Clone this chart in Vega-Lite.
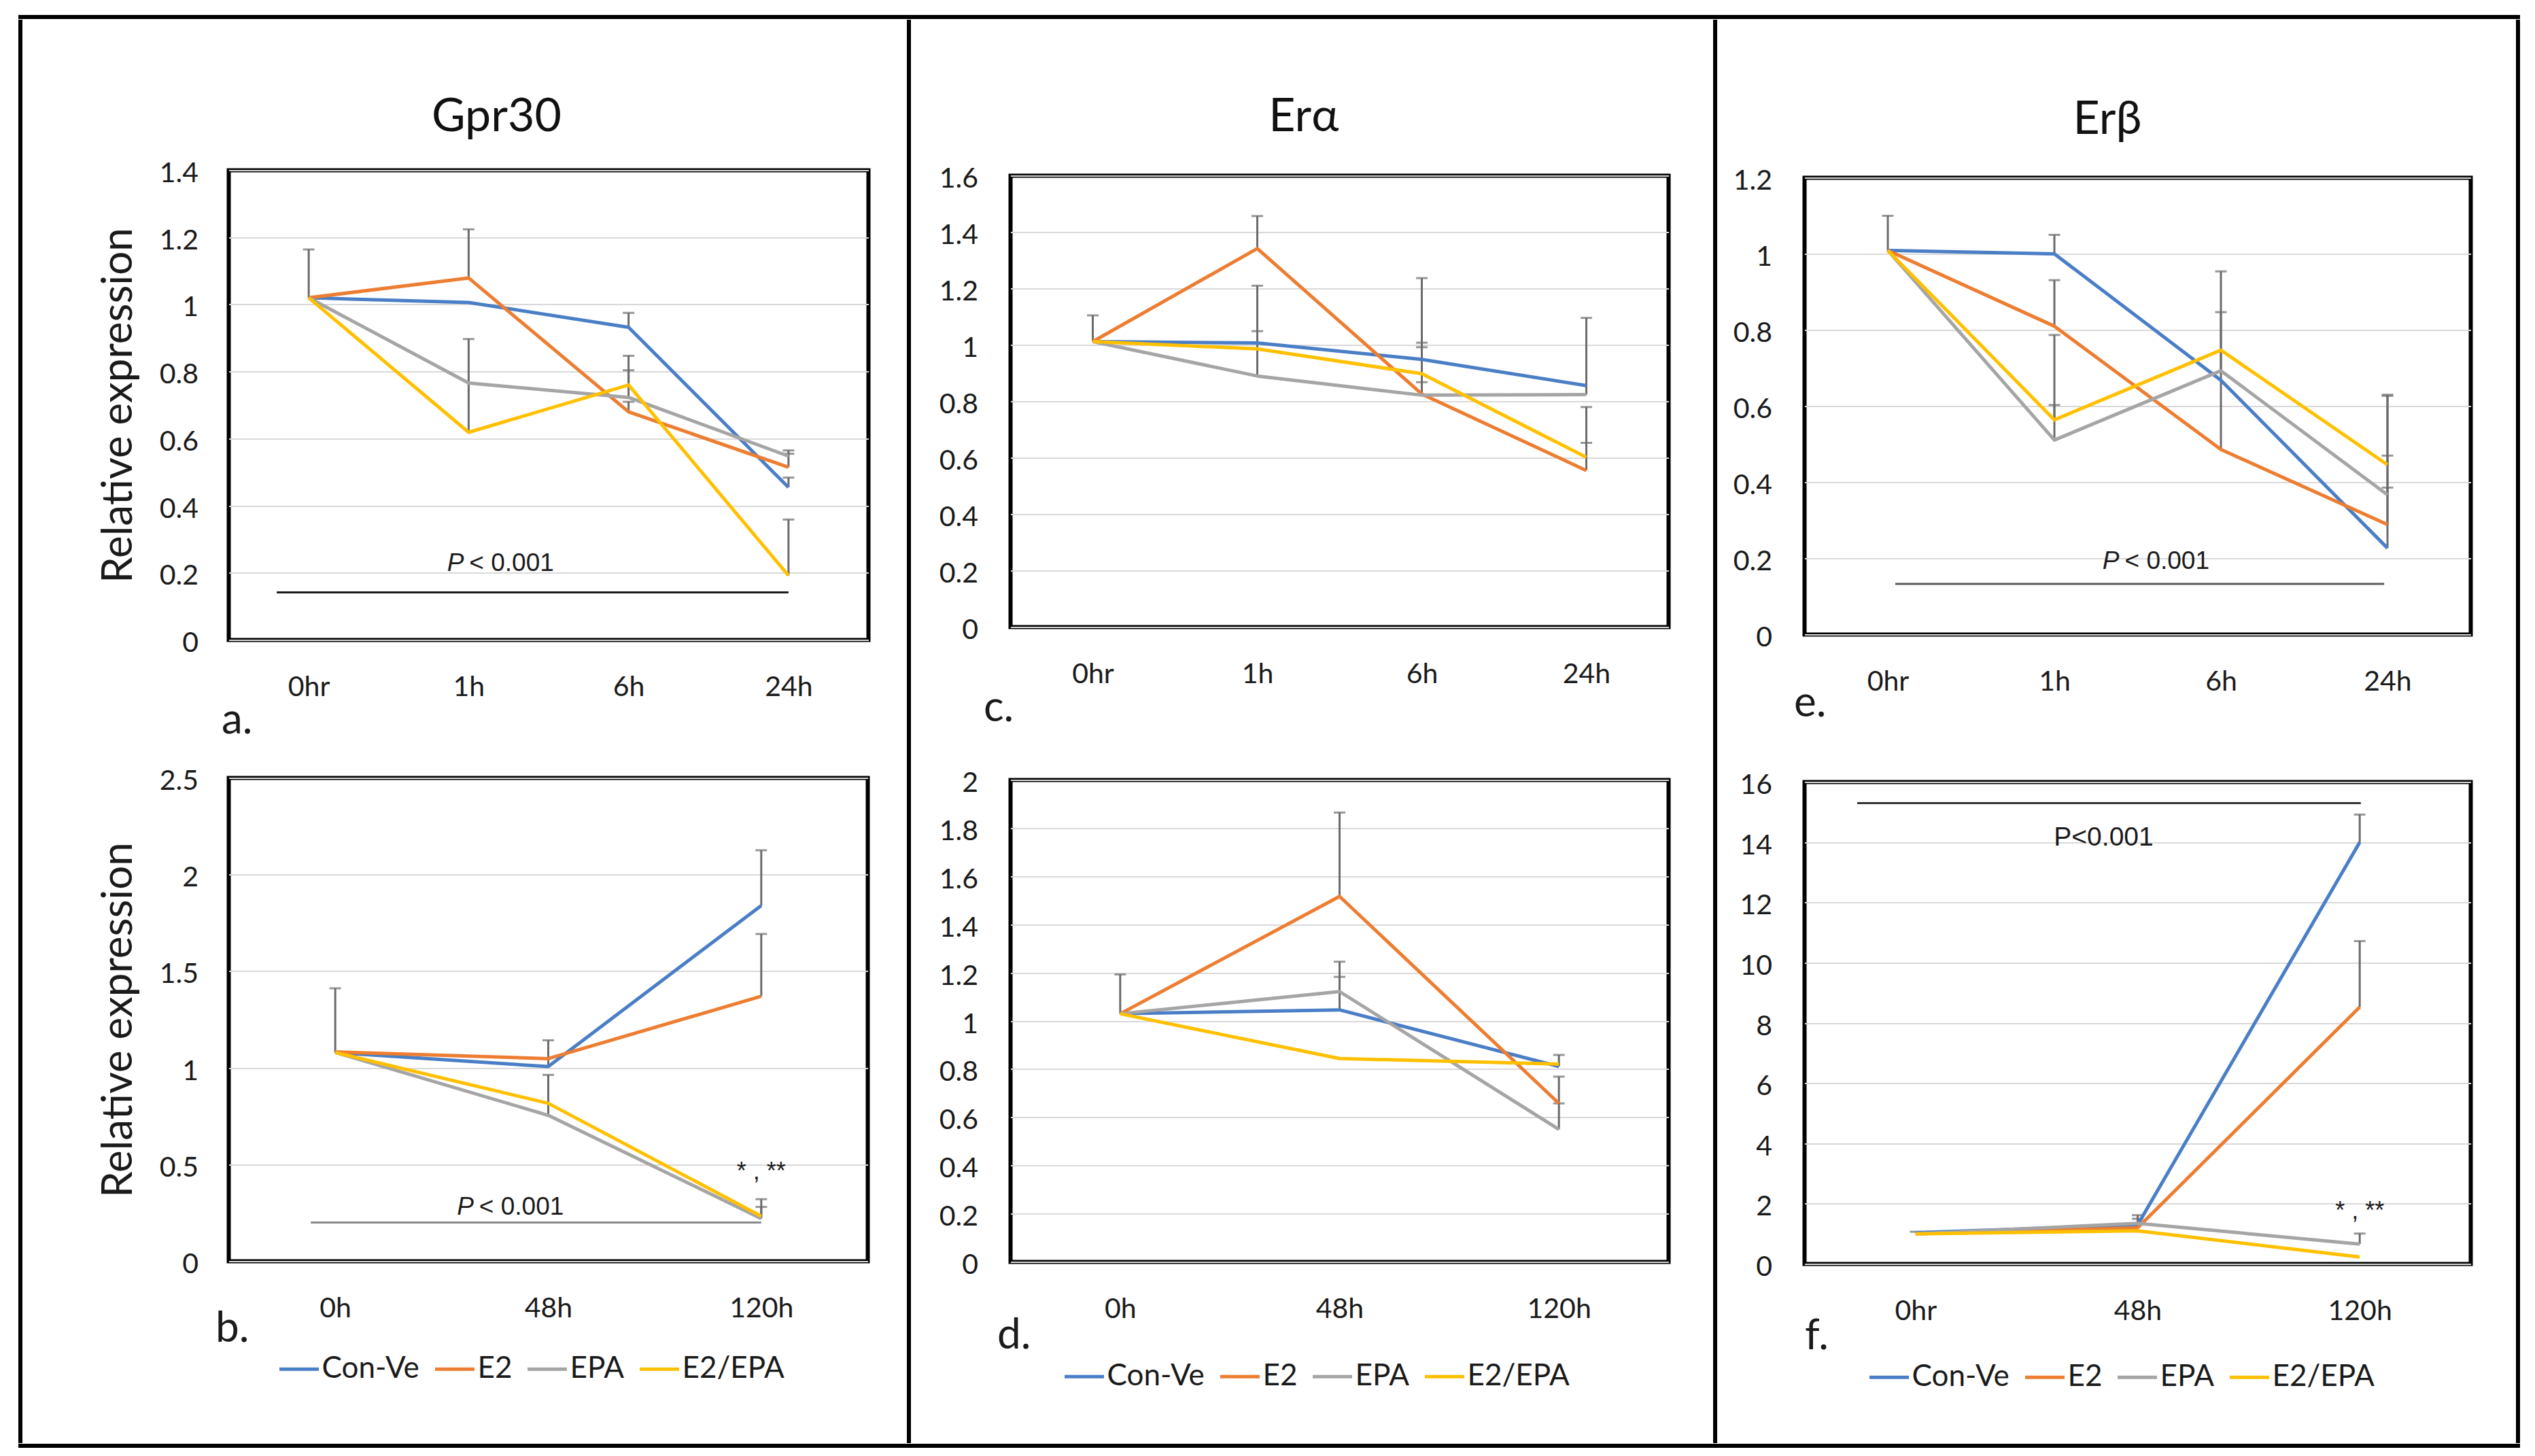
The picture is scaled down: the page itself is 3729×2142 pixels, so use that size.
{
  "$schema": "https://vega.github.io/schema/vega-lite/v6.json",
  "background": "white",
  "padding": {"left": 26.5, "top": 21.5, "right": 0, "bottom": 0},
  "spacing": 0,
  "resolve": {"scale": {"color": "independent"}, "legend": {"color": "independent"}},
  "config": {
    "view": {"stroke": null},
    "font": "Lato",
    "title": {"font": "Lato", "fontWeight": "normal", "color": "#111111", "fontSize": 68, "frame": "bounds", "anchor": "middle"},
    "axis": {"labelFont": "Lato", "labelFontSize": 41, "labelColor": "#1a1a1a", "ticks": false, "domain": false, "labelFlush": false, "titleFont": "Lato", "titleFontWeight": "normal", "titleColor": "#1a1a1a", "gridColor": "#d9d9d9", "gridWidth": 2},
    "axisX": {"grid": false, "labelPadding": 50, "titleFontSize": 62, "titleAlign": "left", "titleBaseline": "middle"},
    "axisY": {"grid": true, "titleFontSize": 62, "labelOffset": 5},
    "legend": {"labelFont": "Lato", "labelFontSize": 44, "labelColor": "#1a1a1a"}
  },
  "vconcat": [
    {"width": 3675, "height": 1, "data": {"values": []}, "mark": "rule", "encoding": {}, "view": {"stroke": "#000000", "strokeWidth": 5}},
    {
      "spacing": 0,
      "bounds": "flush",
      "resolve": {"scale": {"color": "independent"}, "legend": {"color": "independent"}},
      "hconcat": [
        {"width": 1, "height": 2089, "data": {"values": []}, "mark": "rule", "encoding": {}, "view": {"stroke": "#000000", "strokeWidth": 5}},
        {"width": 306, "height": 1, "data": {"values": []}, "mark": "rule", "encoding": {}},
        {
          "spacing": 203,
          "bounds": "flush",
          "resolve": {"scale": {"color": "independent"}, "legend": {"color": "independent"}},
          "vconcat": [
            {"width": 1, "height": 16, "data": {"values": []}, "mark": "rule", "encoding": {}},
            {
              "width": 941, "height": 691,
              "title": {"text": "Gpr30", "offset": 28, "dx": 20},
              "view": {"stroke": "#000000", "strokeWidth": 6},
              "data": {"values": [
                {"g": "Con-Ve", "t": 0, "v": 1.02, "hi": 1.164},
                {"g": "Con-Ve", "t": 1, "v": 1.006},
                {"g": "Con-Ve", "t": 2, "v": 0.932, "hi": 0.975},
                {"g": "Con-Ve", "t": 3, "v": 0.455, "hi": 0.484},
                {"g": "E2", "t": 0, "v": 1.02},
                {"g": "E2", "t": 1, "v": 1.079, "hi": 1.224},
                {"g": "E2", "t": 2, "v": 0.68, "hi": 0.71},
                {"g": "E2", "t": 3, "v": 0.515, "hi": 0.555},
                {"g": "EPA", "t": 0, "v": 1.02},
                {"g": "EPA", "t": 1, "v": 0.766},
                {"g": "EPA", "t": 2, "v": 0.723, "hi": 0.804},
                {"g": "EPA", "t": 3, "v": 0.548, "hi": 0.565},
                {"g": "E2/EPA", "t": 0, "v": 1.02},
                {"g": "E2/EPA", "t": 1, "v": 0.619, "hi": 0.897},
                {"g": "E2/EPA", "t": 2, "v": 0.76, "hi": 0.847},
                {"g": "E2/EPA", "t": 3, "v": 0.192, "hi": 0.359}
              ]},
              "layer": [
                {"transform": [{"filter": "isValid(datum.hi)"}], "mark": {"type": "rule", "color": "#6b6b6b", "strokeWidth": 3},
                 "encoding": {"x": {"field": "t", "type": "quantitative", "title": "a."}, "y": {"field": "v", "type": "quantitative", "title": "Relative expression"}, "y2": {"field": "hi"}}},
                {"transform": [{"filter": "isValid(datum.hi)"}], "mark": {"type": "tick", "orient": "horizontal", "color": "#6b6b6b", "size": 17, "thickness": 3},
                 "encoding": {"x": {"field": "t", "type": "quantitative", "title": "a."}, "y": {"field": "hi", "type": "quantitative", "title": "Relative expression"}}},
                {"mark": {"type": "line", "strokeWidth": 5, "strokeJoin": "round"},
                 "encoding": {
                   "x": {"field": "t", "type": "quantitative", "title": "a.", "scale": {"domain": [-0.5, 3.5], "nice": false, "zero": false},
                         "axis": {"values": [0, 1, 2, 3], "labelExpr": "['0hr','1h','6h','24h'][datum.value]", "titleX": -11, "titleY": 118}},
                   "y": {"field": "v", "type": "quantitative", "title": "Relative expression", "scale": {"domain": [0, 1.4], "nice": false},
                         "axis": {"values": [0, 0.2, 0.4, 0.6, 0.8, 1, 1.2, 1.4], "format": "~f", "labelPadding": 45, "titlePadding": 28}},
                   "color": {"field": "g", "type": "nominal", "scale": {"domain": ["Con-Ve", "E2", "EPA", "E2/EPA"], "range": ["#4a7ec6", "#ed7d31", "#a5a5a5", "#ffc000"]}, "legend": null}
                 }},
                {"data": {"values": [{"t": -0.2, "t2": 3, "v": 0.142}]}, "mark": {"type": "rule", "color": "#1a1a1a", "strokeWidth": 3},
                 "encoding": {"x": {"field": "t", "type": "quantitative", "title": "a."}, "x2": {"field": "t2"}, "y": {"field": "v", "type": "quantitative", "title": "Relative expression"}}},
                {"data": {"values": [{"t": 0.97, "v": 0.228, "label": "P"}]}, "mark": {"type": "text", "font": "Liberation Sans", "fontSize": 37, "fontStyle": "italic", "align": "right", "baseline": "middle", "color": "#1a1a1a"},
                 "encoding": {"x": {"field": "t", "type": "quantitative", "title": "a."}, "y": {"field": "v", "type": "quantitative", "title": "Relative expression"}, "text": {"field": "label"}}},
                {"data": {"values": [{"t": 0.97, "v": 0.228, "label": "< 0.001"}]}, "mark": {"type": "text", "font": "Liberation Sans", "fontSize": 37, "align": "left", "baseline": "middle", "dx": 8, "color": "#1a1a1a"},
                 "encoding": {"x": {"field": "t", "type": "quantitative", "title": "a."}, "y": {"field": "v", "type": "quantitative", "title": "Relative expression"}, "text": {"field": "label"}}}
              ]
            },
            {
              "width": 940, "height": 711,
              "view": {"stroke": "#000000", "strokeWidth": 6},
              "data": {"values": [
                {"g": "Con-Ve", "t": 0, "v": 1.079, "hi": 1.412},
                {"g": "Con-Ve", "t": 1, "v": 1.007, "hi": 1.143},
                {"g": "Con-Ve", "t": 2, "v": 1.84, "hi": 2.126},
                {"g": "E2", "t": 0, "v": 1.083},
                {"g": "E2", "t": 1, "v": 1.048},
                {"g": "E2", "t": 2, "v": 1.371, "hi": 1.693},
                {"g": "EPA", "t": 0, "v": 1.08},
                {"g": "EPA", "t": 1, "v": 0.755, "hi": 0.964},
                {"g": "EPA", "t": 2, "v": 0.221, "hi": 0.321},
                {"g": "E2/EPA", "t": 0, "v": 1.08},
                {"g": "E2/EPA", "t": 1, "v": 0.817},
                {"g": "E2/EPA", "t": 2, "v": 0.233, "hi": 0.281}
              ]},
              "layer": [
                {"transform": [{"filter": "isValid(datum.hi)"}], "mark": {"type": "rule", "color": "#6b6b6b", "strokeWidth": 3},
                 "encoding": {"x": {"field": "t", "type": "quantitative", "title": "b."}, "y": {"field": "v", "type": "quantitative", "title": "Relative expression"}, "y2": {"field": "hi"}}},
                {"transform": [{"filter": "isValid(datum.hi)"}], "mark": {"type": "tick", "orient": "horizontal", "color": "#6b6b6b", "size": 17, "thickness": 3},
                 "encoding": {"x": {"field": "t", "type": "quantitative", "title": "b."}, "y": {"field": "hi", "type": "quantitative", "title": "Relative expression"}}},
                {"mark": {"type": "line", "strokeWidth": 5, "strokeJoin": "round"},
                 "encoding": {
                   "x": {"field": "t", "type": "quantitative", "title": "b.", "scale": {"domain": [-0.5, 2.5], "nice": false, "zero": false},
                         "axis": {"values": [0, 1, 2], "labelExpr": "['0h','48h','120h'][datum.value]", "titleX": -20, "titleY": 99}},
                   "y": {"field": "v", "type": "quantitative", "title": "Relative expression", "scale": {"domain": [0, 2.5], "nice": false},
                         "axis": {"values": [0, 0.5, 1, 1.5, 2, 2.5], "format": "~f", "labelPadding": 45, "titlePadding": 28}},
                   "color": {"field": "g", "type": "nominal", "scale": {"domain": ["Con-Ve", "E2", "EPA", "E2/EPA"], "range": ["#4a7ec6", "#ed7d31", "#a5a5a5", "#ffc000"]},
                             "legend": {"orient": "none", "legendX": 72, "legendY": 838, "direction": "horizontal", "title": null, "symbolType": "stroke", "symbolSize": 3364, "symbolStrokeWidth": 5, "labelOffset": 2, "columnPadding": 12, "labelLimit": 0}}
                 }},
                {"data": {"values": [{"t": -0.115, "t2": 2, "v": 0.2}]}, "mark": {"type": "rule", "color": "#8a8a8a", "strokeWidth": 3},
                 "encoding": {"x": {"field": "t", "type": "quantitative", "title": "b."}, "x2": {"field": "t2"}, "y": {"field": "v", "type": "quantitative", "title": "Relative expression"}}},
                {"data": {"values": [{"t": 0.65, "v": 0.281, "label": "P"}]}, "mark": {"type": "text", "font": "Liberation Sans", "fontSize": 37, "fontStyle": "italic", "align": "right", "baseline": "middle", "color": "#1a1a1a"},
                 "encoding": {"x": {"field": "t", "type": "quantitative", "title": "b."}, "y": {"field": "v", "type": "quantitative", "title": "Relative expression"}, "text": {"field": "label"}}},
                {"data": {"values": [{"t": 0.65, "v": 0.281, "label": "< 0.001"}]}, "mark": {"type": "text", "font": "Liberation Sans", "fontSize": 37, "align": "left", "baseline": "middle", "dx": 8, "color": "#1a1a1a"},
                 "encoding": {"x": {"field": "t", "type": "quantitative", "title": "b."}, "y": {"field": "v", "type": "quantitative", "title": "Relative expression"}, "text": {"field": "label"}}},
                {"data": {"values": [{"t": 2, "v": 0.464, "label": "* , **"}]}, "mark": {"type": "text", "font": "Liberation Sans", "fontSize": 36, "align": "center", "baseline": "middle", "color": "#1a1a1a"},
                 "encoding": {"x": {"field": "t", "type": "quantitative", "title": "b."}, "y": {"field": "v", "type": "quantitative", "title": "Relative expression"}, "text": {"field": "label"}}}
              ]
            }
          ]
        },
        {"width": 1000, "height": 1, "data": {"values": []}, "mark": "rule", "encoding": {}},
        {"width": 1, "height": 2089, "data": {"values": []}, "mark": "rule", "encoding": {}, "view": {"stroke": "#000000", "strokeWidth": 5}},
        {"width": 149, "height": 1, "data": {"values": []}, "mark": "rule", "encoding": {}},
        {
          "spacing": 225,
          "bounds": "flush",
          "resolve": {"scale": {"color": "independent"}, "legend": {"color": "independent"}},
          "vconcat": [
            {"width": 1, "height": 2, "data": {"values": []}, "mark": "rule", "encoding": {}},
            {
              "width": 968, "height": 664,
              "title": {"text": "Erα", "offset": 36},
              "view": {"stroke": "#000000", "strokeWidth": 6},
              "data": {"values": [
                {"g": "Con-Ve", "t": 0, "v": 1.012, "hi": 1.105},
                {"g": "Con-Ve", "t": 1, "v": 1.007, "hi": 1.049},
                {"g": "Con-Ve", "t": 2, "v": 0.949, "hi": 0.992},
                {"g": "Con-Ve", "t": 3, "v": 0.856},
                {"g": "E2", "t": 0, "v": 1.012},
                {"g": "E2", "t": 1, "v": 1.342, "hi": 1.457},
                {"g": "E2", "t": 2, "v": 0.826, "hi": 0.868},
                {"g": "E2", "t": 3, "v": 0.555, "hi": 0.653},
                {"g": "EPA", "t": 0, "v": 1.012},
                {"g": "EPA", "t": 1, "v": 0.89, "hi": 1.21},
                {"g": "EPA", "t": 2, "v": 0.822, "hi": 1.237},
                {"g": "EPA", "t": 3, "v": 0.824, "hi": 1.096},
                {"g": "E2/EPA", "t": 0, "v": 1.012},
                {"g": "E2/EPA", "t": 1, "v": 0.986},
                {"g": "E2/EPA", "t": 2, "v": 0.898, "hi": 1.008},
                {"g": "E2/EPA", "t": 3, "v": 0.602, "hi": 0.78}
              ]},
              "layer": [
                {"transform": [{"filter": "isValid(datum.hi)"}], "mark": {"type": "rule", "color": "#6b6b6b", "strokeWidth": 3},
                 "encoding": {"x": {"field": "t", "type": "quantitative", "title": "c."}, "y": {"field": "v", "type": "quantitative", "title": null}, "y2": {"field": "hi"}}},
                {"transform": [{"filter": "isValid(datum.hi)"}], "mark": {"type": "tick", "orient": "horizontal", "color": "#6b6b6b", "size": 17, "thickness": 3},
                 "encoding": {"x": {"field": "t", "type": "quantitative", "title": "c."}, "y": {"field": "hi", "type": "quantitative", "title": null}}},
                {"mark": {"type": "line", "strokeWidth": 5, "strokeJoin": "round"},
                 "encoding": {
                   "x": {"field": "t", "type": "quantitative", "title": "c.", "scale": {"domain": [-0.5, 3.5], "nice": false, "zero": false},
                         "axis": {"values": [0, 1, 2, 3], "labelExpr": "['0hr','1h','6h','24h'][datum.value]", "titleX": -40, "titleY": 119}},
                   "y": {"field": "v", "type": "quantitative", "title": null, "scale": {"domain": [0, 1.6], "nice": false},
                         "axis": {"values": [0, 0.2, 0.4, 0.6, 0.8, 1, 1.2, 1.4, 1.6], "format": "~f", "labelPadding": 48}},
                   "color": {"field": "g", "type": "nominal", "scale": {"domain": ["Con-Ve", "E2", "EPA", "E2/EPA"], "range": ["#4a7ec6", "#ed7d31", "#a5a5a5", "#ffc000"]}, "legend": null}
                 }}
              ]
            },
            {
              "width": 968, "height": 709,
              "view": {"stroke": "#000000", "strokeWidth": 6},
              "data": {"values": [
                {"g": "Con-Ve", "t": 0, "v": 1.03, "hi": 1.193},
                {"g": "Con-Ve", "t": 1, "v": 1.046, "hi": 1.183},
                {"g": "Con-Ve", "t": 2, "v": 0.811, "hi": 0.859},
                {"g": "E2", "t": 0, "v": 1.03},
                {"g": "E2", "t": 1, "v": 1.517, "hi": 1.865},
                {"g": "E2", "t": 2, "v": 0.658, "hi": 0.769},
                {"g": "EPA", "t": 0, "v": 1.03},
                {"g": "EPA", "t": 1, "v": 1.122, "hi": 1.246},
                {"g": "EPA", "t": 2, "v": 0.55, "hi": 0.658},
                {"g": "E2/EPA", "t": 0, "v": 1.03},
                {"g": "E2/EPA", "t": 1, "v": 0.844},
                {"g": "E2/EPA", "t": 2, "v": 0.821}
              ]},
              "layer": [
                {"transform": [{"filter": "isValid(datum.hi)"}], "mark": {"type": "rule", "color": "#6b6b6b", "strokeWidth": 3},
                 "encoding": {"x": {"field": "t", "type": "quantitative", "title": "d."}, "y": {"field": "v", "type": "quantitative", "title": null}, "y2": {"field": "hi"}}},
                {"transform": [{"filter": "isValid(datum.hi)"}], "mark": {"type": "tick", "orient": "horizontal", "color": "#6b6b6b", "size": 17, "thickness": 3},
                 "encoding": {"x": {"field": "t", "type": "quantitative", "title": "d."}, "y": {"field": "hi", "type": "quantitative", "title": null}}},
                {"mark": {"type": "line", "strokeWidth": 5, "strokeJoin": "round"},
                 "encoding": {
                   "x": {"field": "t", "type": "quantitative", "title": "d.", "scale": {"domain": [-0.5, 2.5], "nice": false, "zero": false},
                         "axis": {"values": [0, 1, 2], "labelExpr": "['0h','48h','120h'][datum.value]", "titleX": -20, "titleY": 108}},
                   "y": {"field": "v", "type": "quantitative", "title": null, "scale": {"domain": [0, 2], "nice": false},
                         "axis": {"values": [0, 0.2, 0.4, 0.6, 0.8, 1, 1.2, 1.4, 1.6, 1.8, 2], "format": "~f", "labelPadding": 48}},
                   "color": {"field": "g", "type": "nominal", "scale": {"domain": ["Con-Ve", "E2", "EPA", "E2/EPA"], "range": ["#4a7ec6", "#ed7d31", "#a5a5a5", "#ffc000"]},
                             "legend": {"orient": "none", "legendX": 77, "legendY": 846, "direction": "horizontal", "title": null, "symbolType": "stroke", "symbolSize": 3364, "symbolStrokeWidth": 5, "labelOffset": 2, "columnPadding": 12, "labelLimit": 0}}
                 }}
              ]
            }
          ]
        },
        {"width": 1036, "height": 1, "data": {"values": []}, "mark": "rule", "encoding": {}},
        {"width": 1, "height": 2089, "data": {"values": []}, "mark": "rule", "encoding": {}, "view": {"stroke": "#000000", "strokeWidth": 5}},
        {"width": 131, "height": 1, "data": {"values": []}, "mark": "rule", "encoding": {}},
        {
          "spacing": 217,
          "bounds": "flush",
          "resolve": {"scale": {"color": "independent"}, "legend": {"color": "independent"}},
          "vconcat": [
            {"width": 1, "height": 13, "data": {"values": []}, "mark": "rule", "encoding": {}},
            {
              "width": 980, "height": 672,
              "title": {"text": "Erβ", "offset": 35, "dx": 8},
              "view": {"stroke": "#000000", "strokeWidth": 6},
              "data": {"values": [
                {"g": "Con-Ve", "t": 0, "v": 1.009, "hi": 1.1},
                {"g": "Con-Ve", "t": 1, "v": 1.0, "hi": 1.05},
                {"g": "Con-Ve", "t": 2, "v": 0.668},
                {"g": "Con-Ve", "t": 3, "v": 0.227, "hi": 0.63},
                {"g": "E2", "t": 0, "v": 1.009},
                {"g": "E2", "t": 1, "v": 0.81, "hi": 0.931},
                {"g": "E2", "t": 2, "v": 0.486, "hi": 0.954},
                {"g": "E2", "t": 3, "v": 0.289, "hi": 0.386},
                {"g": "EPA", "t": 0, "v": 1.009},
                {"g": "EPA", "t": 1, "v": 0.511, "hi": 0.787},
                {"g": "EPA", "t": 2, "v": 0.693, "hi": 0.847},
                {"g": "EPA", "t": 3, "v": 0.367, "hi": 0.627},
                {"g": "E2/EPA", "t": 0, "v": 1.009},
                {"g": "E2/EPA", "t": 1, "v": 0.564, "hi": 0.603},
                {"g": "E2/EPA", "t": 2, "v": 0.747},
                {"g": "E2/EPA", "t": 3, "v": 0.446, "hi": 0.47}
              ]},
              "layer": [
                {"transform": [{"filter": "isValid(datum.hi)"}], "mark": {"type": "rule", "color": "#6b6b6b", "strokeWidth": 3},
                 "encoding": {"x": {"field": "t", "type": "quantitative", "title": "e."}, "y": {"field": "v", "type": "quantitative", "title": null}, "y2": {"field": "hi"}}},
                {"transform": [{"filter": "isValid(datum.hi)"}], "mark": {"type": "tick", "orient": "horizontal", "color": "#6b6b6b", "size": 17, "thickness": 3},
                 "encoding": {"x": {"field": "t", "type": "quantitative", "title": "e."}, "y": {"field": "hi", "type": "quantitative", "title": null}}},
                {"mark": {"type": "line", "strokeWidth": 5, "strokeJoin": "round"},
                 "encoding": {
                   "x": {"field": "t", "type": "quantitative", "title": "e.", "scale": {"domain": [-0.5, 3.5], "nice": false, "zero": false},
                         "axis": {"values": [0, 1, 2, 3], "labelExpr": "['0hr','1h','6h','24h'][datum.value]", "titleX": -16, "titleY": 101}},
                   "y": {"field": "v", "type": "quantitative", "title": null, "scale": {"domain": [0, 1.2], "nice": false},
                         "axis": {"values": [0, 0.2, 0.4, 0.6, 0.8, 1, 1.2], "format": "~f", "labelPadding": 48}},
                   "color": {"field": "g", "type": "nominal", "scale": {"domain": ["Con-Ve", "E2", "EPA", "E2/EPA"], "range": ["#4a7ec6", "#ed7d31", "#a5a5a5", "#ffc000"]}, "legend": null}
                 }},
                {"data": {"values": [{"t": 0.045, "t2": 2.98, "v": 0.133}]}, "mark": {"type": "rule", "color": "#5a5a5a", "strokeWidth": 3},
                 "encoding": {"x": {"field": "t", "type": "quantitative", "title": "e."}, "x2": {"field": "t2"}, "y": {"field": "v", "type": "quantitative", "title": null}}},
                {"data": {"values": [{"t": 1.39, "v": 0.192, "label": "P"}]}, "mark": {"type": "text", "font": "Liberation Sans", "fontSize": 37, "fontStyle": "italic", "align": "right", "baseline": "middle", "color": "#1a1a1a"},
                 "encoding": {"x": {"field": "t", "type": "quantitative", "title": "e."}, "y": {"field": "v", "type": "quantitative", "title": null}, "text": {"field": "label"}}},
                {"data": {"values": [{"t": 1.39, "v": 0.192, "label": "< 0.001"}]}, "mark": {"type": "text", "font": "Liberation Sans", "fontSize": 37, "align": "left", "baseline": "middle", "dx": 8, "color": "#1a1a1a"},
                 "encoding": {"x": {"field": "t", "type": "quantitative", "title": "e."}, "y": {"field": "v", "type": "quantitative", "title": null}, "text": {"field": "label"}}}
              ]
            },
            {
              "width": 980, "height": 709,
              "view": {"stroke": "#000000", "strokeWidth": 6},
              "data": {"values": [
                {"g": "Con-Ve", "t": 0, "v": 1.04, "hi": 1.07},
                {"g": "Con-Ve", "t": 1, "v": 1.3, "hi": 1.62},
                {"g": "Con-Ve", "t": 2, "v": 14.0, "hi": 14.92},
                {"g": "E2", "t": 0, "v": 1.0},
                {"g": "E2", "t": 1, "v": 1.2, "hi": 1.5},
                {"g": "E2", "t": 2, "v": 8.53, "hi": 10.72},
                {"g": "EPA", "t": 0, "v": 1.0},
                {"g": "EPA", "t": 1, "v": 1.35},
                {"g": "EPA", "t": 2, "v": 0.66, "hi": 1.01},
                {"g": "E2/EPA", "t": 0, "v": 1.0},
                {"g": "E2/EPA", "t": 1, "v": 1.1},
                {"g": "E2/EPA", "t": 2, "v": 0.23}
              ]},
              "layer": [
                {"transform": [{"filter": "isValid(datum.hi)"}], "mark": {"type": "rule", "color": "#6b6b6b", "strokeWidth": 3},
                 "encoding": {"x": {"field": "t", "type": "quantitative", "title": "f."}, "y": {"field": "v", "type": "quantitative", "title": null}, "y2": {"field": "hi"}}},
                {"transform": [{"filter": "isValid(datum.hi)"}], "mark": {"type": "tick", "orient": "horizontal", "color": "#6b6b6b", "size": 17, "thickness": 3},
                 "encoding": {"x": {"field": "t", "type": "quantitative", "title": "f."}, "y": {"field": "hi", "type": "quantitative", "title": null}}},
                {"mark": {"type": "line", "strokeWidth": 5, "strokeJoin": "round"},
                 "encoding": {
                   "x": {"field": "t", "type": "quantitative", "title": "f.", "scale": {"domain": [-0.5, 2.5], "nice": false, "zero": false},
                         "axis": {"values": [0, 1, 2], "labelExpr": "['0hr','48h','120h'][datum.value]", "titleX": 0, "titleY": 106}},
                   "y": {"field": "v", "type": "quantitative", "title": null, "scale": {"domain": [0, 16], "nice": false},
                         "axis": {"values": [0, 2, 4, 6, 8, 10, 12, 14, 16], "format": "~f", "labelPadding": 48}},
                   "color": {"field": "g", "type": "nominal", "scale": {"domain": ["Con-Ve", "E2", "EPA", "E2/EPA"], "range": ["#4a7ec6", "#ed7d31", "#a5a5a5", "#ffc000"]},
                             "legend": {"orient": "none", "legendX": 93, "legendY": 844, "direction": "horizontal", "title": null, "symbolType": "stroke", "symbolSize": 3364, "symbolStrokeWidth": 5, "labelOffset": 2, "columnPadding": 12, "labelLimit": 0}}
                 }},
                {"data": {"values": [{"t": -0.263, "t2": 2.005, "v": 15.3}]}, "mark": {"type": "rule", "color": "#333333", "strokeWidth": 3},
                 "encoding": {"x": {"field": "t", "type": "quantitative", "title": "f."}, "x2": {"field": "t2"}, "y": {"field": "v", "type": "quantitative", "title": null}}},
                {"data": {"values": [{"t": 0.847, "v": 14.16, "label": "P<0.001"}]}, "mark": {"type": "text", "font": "Liberation Sans", "fontSize": 39, "align": "center", "baseline": "middle", "color": "#1a1a1a"},
                 "encoding": {"x": {"field": "t", "type": "quantitative", "title": "f."}, "y": {"field": "v", "type": "quantitative", "title": null}, "text": {"field": "label"}}},
                {"data": {"values": [{"t": 2, "v": 1.76, "label": "* , **"}]}, "mark": {"type": "text", "font": "Liberation Sans", "fontSize": 36, "align": "center", "baseline": "middle", "color": "#1a1a1a"},
                 "encoding": {"x": {"field": "t", "type": "quantitative", "title": "f."}, "y": {"field": "v", "type": "quantitative", "title": null}, "text": {"field": "label"}}}
              ]
            }
          ]
        },
        {"width": 1049, "height": 1, "data": {"values": []}, "mark": "rule", "encoding": {}},
        {"width": 1, "height": 2089, "data": {"values": []}, "mark": "rule", "encoding": {}, "view": {"stroke": "#000000", "strokeWidth": 5}}
      ]
    },
    {"width": 3675, "height": 1, "data": {"values": []}, "mark": "rule", "encoding": {}, "view": {"stroke": "#000000", "strokeWidth": 5}}
  ]
}
